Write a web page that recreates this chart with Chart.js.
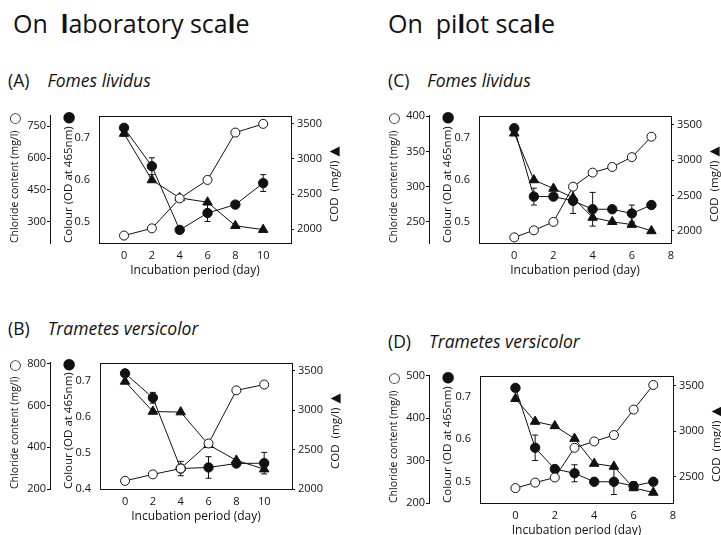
<!DOCTYPE html>
<html lang="en">
<head>
<meta charset="utf-8">
<title>Colour, COD and chloride during incubation</title>
<script src="https://cdn.jsdelivr.net/npm/chart.js@4"></script>
<style>
  body { margin: 0; width: 721px; height: 535px; position: relative; overflow: hidden; background: #fff; color: #111; font-family: 'Open Sans', sans-serif; }
  .heading { position: absolute; font-size: 25px; line-height: 1; white-space: pre; }
  .heading b { font-weight: 700; }
  .panel-title { position: absolute; font-size: 17.5px; line-height: 1; white-space: pre; }
  .panel-title i { margin-left: 18px; }
  canvas { position: absolute; }
</style>
</head>
<body>
<div class="heading" style="left:13px;top:11px">On&nbsp; <b>l</b>aboratory sca<b>l</b>e</div>
<div class="heading" style="left:388px;top:11px">On&nbsp; pi<b>l</b>ot sca<b>l</b>e</div>

<div class="panel-title" style="left:8px;top:72px">(A)<i>Fomes lividus</i></div>
<div class="panel-title" style="left:8px;top:320px">(B)<i>Trametes versicolor</i></div>
<div class="panel-title" style="left:388px;top:72px">(C)<i>Fomes lividus</i></div>
<div class="panel-title" style="left:388px;top:333px">(D)<i>Trametes versicolor</i></div>

<canvas id="chartA" width="360" height="185" style="left:0px;top:100px"></canvas>
<canvas id="chartB" width="360" height="185" style="left:0px;top:347px"></canvas>
<canvas id="chartC" width="342" height="185" style="left:379px;top:100px"></canvas>
<canvas id="chartD" width="342" height="180" style="left:379px;top:360px"></canvas>

<script>
    // incubation days
    const daysLab = [0, 2, 4, 6, 8, 10];
    const daysPilot = [0, 1, 2, 3, 4, 5, 6, 7];

    // (A) Fomes lividus, laboratory scale
    const chlorideA = [235, 269, 410, 497, 720, 761];
    const colourA = [0.723, 0.632, 0.481, 0.521, 0.541, 0.592];
    const colourErrA = [0, 0.02, 0, 0.02, 0.005, 0.02];
    const codA = [3361, 2701, 2446, 2385, 2050, 1995];

    // (B) Trametes versicolor, laboratory scale
    const chlorideB = [239, 270, 298, 418, 672, 700];
    const colourB = [0.722, 0.654, 0.457, 0.46, 0.471, 0.472];
    const colourErrB = [0, 0.015, 0.02, 0.03, 0.005, 0.03];
    const codB = [3364, 2983, 2975, 2562, 2363, 2252];

    // (C) Fomes lividus, pilot scale
    const chlorideC = [228, 238, 250, 300, 320, 328, 342, 371];
    const colourC = [0.722, 0.56, 0.56, 0.55, 0.53, 0.53, 0.52, 0.54];
    const colourErrC = [0, 0.02, 0, 0.03, 0.04, 0, 0.02, 0.005];
    const codC = [3380, 2720, 2600, 2470, 2190, 2130, 2090, 2000];

    // (D) Trametes versicolor, pilot scale
    const chlorideD = [235, 248, 260, 330, 345, 360, 420, 478];
    const colourD = [0.721, 0.58, 0.53, 0.52, 0.50, 0.50, 0.49, 0.50];
    const colourErrD = [0, 0.03, 0, 0.02, 0, 0.03, 0.01, 0];
    const codD = [3357, 3107, 3059, 2920, 2647, 2615, 2380, 2330];

    // tick labels
    const xTicksLab = [0, 2, 4, 6, 8, 10];
    const xTicksPilot = [0, 2, 4, 6, 8];
    const chlorideTicksA = [300, 450, 600, 750];
    const chlorideTicksB = [200, 400, 600, 800];
    const chlorideTicksC = [250, 300, 350, 400];
    const chlorideTicksD = [200, 300, 400, 500];
    const colourTicks = [0.5, 0.6, 0.7];
    const colourTicksB = [0.4, 0.5, 0.6, 0.7];
    const codTicks = [2000, 2500, 3000, 3500];
    const codTicksD = [2500, 3000, 3500];

    const INK = '#111';
    Chart.defaults.font.family = "'Open Sans', sans-serif";
    Chart.defaults.color = INK;

    const setTicks = values => scale => { scale.ticks = values.map(v => ({ value: v })); };
    const setWidth = w => scale => { scale.width = w; };
    const setHeight = h => scale => { scale.height = h; };

    // box round the plot area
    const framePlugin = {
        id: 'frame',
        beforeDatasetsDraw(chart) {
            const { ctx, chartArea: a } = chart;
            ctx.save();
            ctx.strokeStyle = INK;
            ctx.lineWidth = 1;
            ctx.strokeRect(Math.round(a.left) + 0.5, Math.round(a.top) + 0.5, Math.round(a.width), Math.round(a.height));
            ctx.restore();
        }
    };

    // error bars on the colour series
    const errorBarPlugin = {
        id: 'errorBars',
        beforeDatasetsDraw(chart) {
            const ctx = chart.ctx;
            chart.data.datasets.forEach(ds => {
                if (!ds.errors) return;
                const xs = chart.scales.x, ys = chart.scales[ds.yAxisID];
                ctx.save();
                ctx.strokeStyle = INK;
                ctx.lineWidth = 1;
                ds.data.forEach((p, i) => {
                    const e = ds.errors[i];
                    if (!e) return;
                    const x = xs.getPixelForValue(p.x);
                    const y1 = ys.getPixelForValue(p.y + e);
                    const y2 = ys.getPixelForValue(p.y - e);
                    ctx.beginPath();
                    ctx.moveTo(x, y1); ctx.lineTo(x, y2);
                    ctx.moveTo(x - 3, y1); ctx.lineTo(x + 3, y1);
                    ctx.moveTo(x - 3, y2); ctx.lineTo(x + 3, y2);
                    ctx.stroke();
                });
                ctx.restore();
            });
        }
    };

    // series symbols next to the axis titles, and the right title (reads bottom to top)
    const axisKeyPlugin = {
        id: 'axisKey',
        afterDraw(chart, args, opts) {
            const { ctx, chartArea: a, scales } = chart;
            const glyph = (ch, size, x, y) => {
                ctx.save();
                ctx.translate(x, y);
                ctx.rotate(-Math.PI / 2);
                ctx.font = size + "px 'DejaVu Sans', sans-serif";
                ctx.fillStyle = INK;
                ctx.textAlign = 'center';
                ctx.textBaseline = 'middle';
                ctx.fillText(ch, 0, 0);
                ctx.restore();
            };
            glyph('\u25CB', 14, scales.yCl.left + 15.5, a.top + 3);
            glyph('\u25CF', 15, scales.yCol.left + 19.5, a.top + 2);

            const codX = a.right + 44, keyY = a.top + 36;
            glyph('\u25B2', 13, codX, keyY);
            ctx.save();
            ctx.translate(codX, keyY + 9);
            ctx.rotate(-Math.PI / 2);
            ctx.font = "11.5px 'Open Sans', sans-serif";
            ctx.fillStyle = INK;
            ctx.textAlign = 'right';
            ctx.textBaseline = 'middle';
            ctx.fillText(opts.codText, 0, 0);
            ctx.restore();
        }
    };

    function drawPanel(p) {
        const pts = vals => p.days.map((d, i) => ({ x: d, y: vals[i] }));
        const line = { borderColor: INK, borderWidth: 1, pointBorderColor: INK, pointBorderWidth: 1, tension: 0 };

        new Chart(document.getElementById(p.id), {
            type: 'line',
            data: {
                datasets: [
                    { ...line, label: 'Chloride', data: pts(p.chloride), yAxisID: 'yCl',
                      pointStyle: 'circle', pointRadius: 4.5, pointBackgroundColor: '#fff' },
                    { ...line, label: 'Colour', data: pts(p.colour), errors: p.colourErr, yAxisID: 'yCol',
                      pointStyle: 'circle', pointRadius: 4.7, pointBackgroundColor: INK },
                    { ...line, label: 'COD', data: pts(p.cod), yAxisID: 'yCod',
                      pointStyle: 'triangle', pointRadius: 5.5, pointBackgroundColor: INK }
                ]
            },
            options: {
                responsive: false,
                animation: false,
                layout: { padding: { left: 0, right: 0, top: 13, bottom: p.padBottom } },
                plugins: {
                    legend: { display: false },
                    tooltip: { enabled: false },
                    axisKey: { codText: 'COD  (mg/l)' }
                },
                scales: {
                    x: {
                        type: 'linear', min: -1.8, max: p.xMax,
                        afterBuildTicks: setTicks(p.xTicks), afterFit: setHeight(36),
                        grid: { display: false, drawTicks: false }, border: { display: false },
                        ticks: { padding: 6, font: { size: 11 }, callback: v => String(v) },
                        title: { display: true, text: 'Incubation period (day)', font: { size: 12 }, padding: { top: 0, bottom: 1.5 } }
                    },
                    yCl: {
                        position: 'left', weight: 2, min: p.clRange[0], max: p.clRange[1],
                        afterBuildTicks: setTicks(p.clTicks), afterFit: setWidth(50),
                        grid: { drawOnChartArea: false, tickLength: 3, color: INK },
                        border: { display: true, color: INK },
                        ticks: { padding: 1, font: { size: 11 }, callback: v => String(v) },
                        title: { display: true, text: 'Chloride content (mg/l)', align: 'start', font: { size: 10.5 }, padding: { top: 9, bottom: 0 } }
                    },
                    yCol: {
                        position: 'left', weight: 1, min: p.colRange[0], max: p.colRange[1],
                        afterBuildTicks: setTicks(p.colTicks), afterFit: setWidth(p.colWidth),
                        grid: { display: false, drawTicks: false }, border: { display: false },
                        ticks: { padding: 9, font: { size: 11 }, callback: v => v.toFixed(1) },
                        title: { display: true, text: 'Colour (OD at 465nm)', align: 'start', font: { size: 11.5 }, padding: { top: 12, bottom: 0 } }
                    },
                    yCod: {
                        position: 'right', min: p.codRange[0], max: p.codRange[1],
                        afterBuildTicks: setTicks(p.codTicks), afterFit: setWidth(p.codWidth),
                        grid: { drawOnChartArea: false, tickLength: 3, color: INK },
                        border: { display: false },
                        ticks: { padding: 3, font: { size: 11 }, callback: v => String(v) }
                    }
                }
            },
            plugins: [framePlugin, errorBarPlugin, axisKeyPlugin]
        });
    }

    drawPanel({ id: 'chartA', days: daysLab, xMax: 12, xTicks: xTicksLab,
        chloride: chlorideA, colour: colourA, colourErr: colourErrA, cod: codA,
        clRange: [200, 800], clTicks: chlorideTicksA,
        colRange: [0.45, 0.752], colTicks: colourTicks,
        codRange: [1805, 3617], codTicks: codTicks,
        colWidth: 49, codWidth: 69, padBottom: 6 });

    drawPanel({ id: 'chartB', days: daysLab, xMax: 12, xTicks: xTicksLab,
        chloride: chlorideB, colour: colourB, colourErr: colourErrB, cod: codB,
        clRange: [200, 805], clTicks: chlorideTicksB,
        colRange: [0.4, 0.752], colTicks: colourTicksB,
        codRange: [2000, 3603], codTicks: codTicks,
        colWidth: 50, codWidth: 68, padBottom: 7 });

    drawPanel({ id: 'chartC', days: daysPilot, xMax: 8, xTicks: xTicksPilot,
        chloride: chlorideC, colour: colourC, colourErr: colourErrC, cod: codC,
        clRange: [220, 401], clTicks: chlorideTicksC,
        colRange: [0.45, 0.752], colTicks: colourTicks,
        codRange: [1830, 3630], codTicks: codTicks,
        colWidth: 50, codWidth: 50, padBottom: 6 });

    drawPanel({ id: 'chartD', days: daysPilot, xMax: 8, xTicks: xTicksPilot,
        chloride: chlorideD, colour: colourD, colourErr: colourErrD, cod: codD,
        clRange: [200, 500], clTicks: chlorideTicksD,
        colRange: [0.45, 0.75], colTicks: colourTicks,
        codRange: [2215, 3610], codTicks: codTicksD,
        colWidth: 51, codWidth: 48, padBottom: 1 });
</script>
</body>
</html>
